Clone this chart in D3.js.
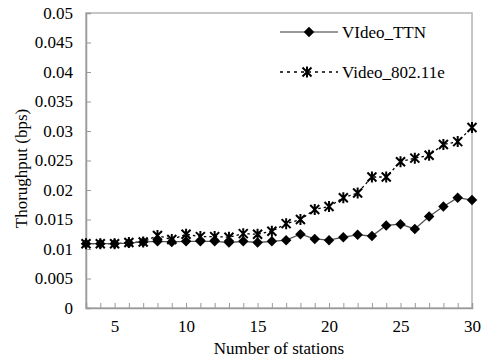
<!DOCTYPE html>
<html>
<head>
<meta charset="utf-8">
<script src="https://cdnjs.cloudflare.com/ajax/libs/d3/7.8.5/d3.min.js"></script>
<style>
  body { margin: 0; background: #fff; }
  svg text { font-family: "Liberation Serif", "DejaVu Serif", serif; fill: #000; }
</style>
</head>
<body>
<div id="chart"></div>
<script>
// data
var stations = [3, 4, 5, 6, 7, 8, 9, 10, 11, 12, 13, 14, 15, 16, 17, 18, 19, 20, 21, 22, 23, 24, 25, 26, 27, 28, 29, 30];
var videoTTN = [0.0109, 0.0109, 0.0109, 0.011, 0.0112, 0.0113, 0.0112, 0.0113, 0.0113, 0.0113, 0.0111, 0.0113, 0.0111, 0.0113,
                0.0115, 0.0125, 0.0117, 0.0115, 0.0120, 0.0124, 0.0122, 0.0140, 0.0142, 0.0134, 0.0155, 0.0172, 0.0187, 0.0183];
var video80211e = [0.0109, 0.0109, 0.0109, 0.0111, 0.0112, 0.0123, 0.0116, 0.0125, 0.0121, 0.0121, 0.0120, 0.0126, 0.0125, 0.0130,
                   0.0143, 0.0150, 0.0167, 0.0172, 0.0187, 0.0195, 0.0222, 0.0222, 0.0248, 0.0254, 0.0259, 0.0277, 0.0282, 0.0306];
var yTicks = [0, 0.005, 0.01, 0.015, 0.02, 0.025, 0.03, 0.035, 0.04, 0.045, 0.05];
var xTickLabels = [5, 10, 15, 20, 25, 30];
var seriesNames = ["VIdeo_TTN", "Video_802.11e"];

var width = 487, height = 363;
var margin = {top: 13, right: 15, bottom: 55, left: 86};
var serif = "'Liberation Serif', 'DejaVu Serif', serif";

var svg = d3.select("#chart").append("svg")
    .attr("width", width)
    .attr("height", height);

var x = d3.scaleLinear().domain([3, 30]).range([margin.left, width - margin.right]);
var y = d3.scaleLinear().domain([0, 0.05]).range([height - margin.bottom, margin.top]);

var axisColor = "#9a9a9a";

// plot frame
svg.append("rect")
    .attr("x", x(3)).attr("y", y(0.05))
    .attr("width", x(30) - x(3)).attr("height", y(0) - y(0.05))
    .attr("fill", "none").attr("stroke", "#b4b4b4").attr("stroke-width", 1.5);

// y axis, ticks pointing inwards
var yAxis = svg.append("g")
    .attr("transform", "translate(" + x(3) + ",0)")
    .call(d3.axisRight(y).tickValues(yTicks).tickSize(5).tickFormat(function(d) { return String(+d.toFixed(3)); }));
yAxis.select(".domain").attr("stroke", axisColor).attr("stroke-width", 1.5);
yAxis.selectAll(".tick line").attr("stroke", axisColor);
yAxis.selectAll(".tick text")
    .attr("x", -13).attr("text-anchor", "end")
    .style("font-family", serif).style("font-size", "17px");

// x axis, ticks pointing up
var xAxis = svg.append("g")
    .attr("transform", "translate(0," + y(0) + ")")
    .call(d3.axisTop(x).tickValues(stations).tickSize(5)
        .tickFormat(function(d) { return xTickLabels.indexOf(d) >= 0 ? d : ""; }));
xAxis.select(".domain").attr("stroke", axisColor).attr("stroke-width", 1.5);
xAxis.selectAll(".tick line").attr("stroke", axisColor);
xAxis.selectAll(".tick text")
    .attr("y", 24).attr("dy", 0)
    .style("font-family", serif).style("font-size", "17px");

// axis titles
svg.append("text")
    .attr("x", (x(3) + x(30)) / 2).attr("y", 354)
    .attr("text-anchor", "middle")
    .style("font-size", "17px")
    .text("Number of stations");

svg.append("text")
    .attr("transform", "translate(27," + (y(0.025) + 8) + ") rotate(-90)")
    .attr("text-anchor", "middle")
    .style("font-size", "17px")
    .text("Thorughput (bps)");

var line = d3.line()
    .x(function(d, i) { return x(stations[i]); })
    .y(function(d) { return y(d); });

// 802.11e dashed line with star markers
svg.append("path")
    .datum(video80211e)
    .attr("d", line)
    .attr("fill", "none").attr("stroke", "#000").attr("stroke-width", 1.3)
    .attr("stroke-dasharray", "2.5,3");

// TTN solid line with diamonds
svg.append("path")
    .datum(videoTTN)
    .attr("d", line)
    .attr("fill", "none").attr("stroke", "#555").attr("stroke-width", 1.3);

var starPath = "M-4.5,-4.5L4.5,4.5M-4.5,4.5L4.5,-4.5M0,-5.5L0,5.5";

function drawStars(g, xs, ys) {
    g.append("path")
        .attr("transform", "translate(" + xs + "," + ys + ")")
        .attr("d", starPath)
        .attr("stroke", "#000").attr("stroke-width", 2).attr("fill", "none");
}

var diamond = d3.symbol().type(d3.symbolDiamond2).size(70);

video80211e.forEach(function(d, i) {
    drawStars(svg, x(stations[i]), y(d));
});

svg.selectAll(".dia")
    .data(videoTTN)
    .enter().append("path")
    .attr("class", "dia")
    .attr("d", diamond)
    .attr("transform", function(d, i) { return "translate(" + x(stations[i]) + "," + y(d) + ")"; })
    .attr("fill", "#000");

// legend
var legend = svg.append("g");
legend.append("line")
    .attr("x1", 280).attr("x2", 338).attr("y1", 32).attr("y2", 32)
    .attr("stroke", "#777").attr("stroke-width", 1.5);
legend.append("path")
    .attr("d", diamond)
    .attr("transform", "translate(309,32)")
    .attr("fill", "#000");
legend.append("text")
    .attr("x", 342).attr("y", 37.5)
    .style("font-size", "17px")
    .text(seriesNames[0]);

legend.append("line")
    .attr("x1", 280).attr("x2", 338).attr("y1", 72).attr("y2", 72)
    .attr("stroke", "#000").attr("stroke-width", 1.5)
    .attr("stroke-dasharray", "3,4");
drawStars(legend, 307, 72);
legend.append("text")
    .attr("x", 342).attr("y", 77.5)
    .style("font-size", "17px")
    .text(seriesNames[1]);
</script>
</body>
</html>
